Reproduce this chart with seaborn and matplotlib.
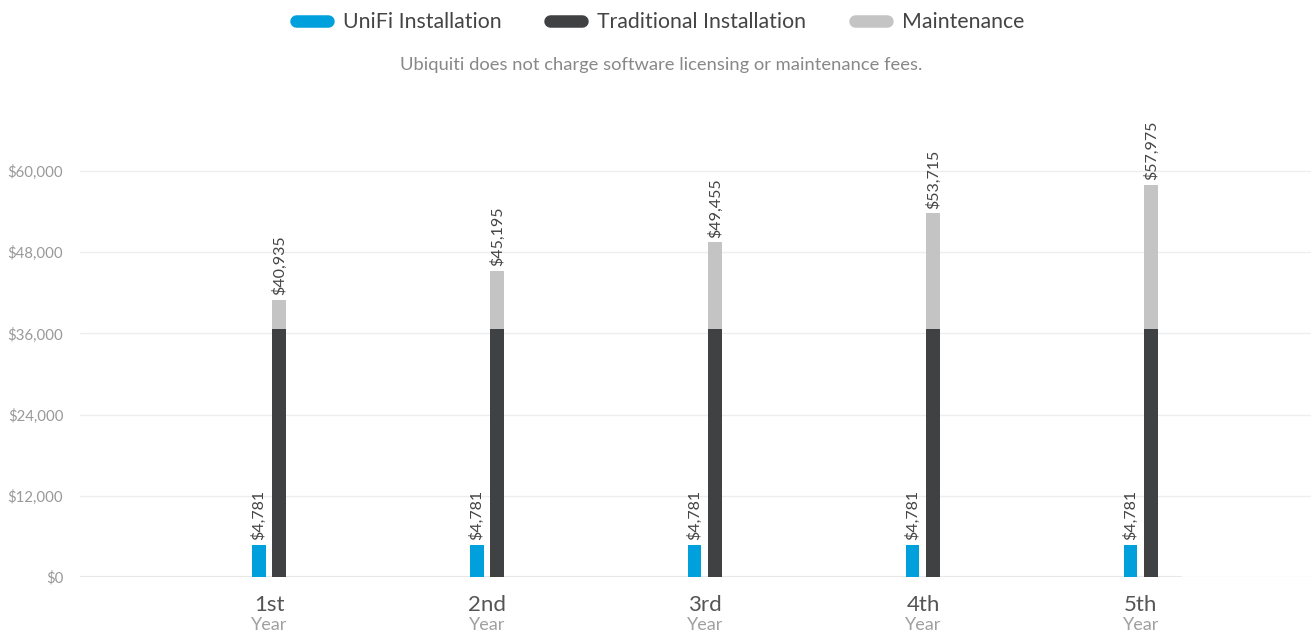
import pandas as pd
import numpy as np
import matplotlib.pyplot as plt
import seaborn as sns
from matplotlib.lines import Line2D

years = ["1st", "2nd", "3rd", "4th", "5th"]
unifi = [4781, 4781, 4781, 4781, 4781]
traditional = [36675, 36675, 36675, 36675, 36675]
maintenance = [4260, 8520, 12780, 17040, 21300]
yticks = [0, 12000, 24000, 36000, 48000, 60000]

colors = {"UniFi Installation": "#00a0dc", "Traditional Installation": "#404143",
          "Maintenance": "#c4c4c4"}

totals = [t + m for t, m in zip(traditional, maintenance)]
df_top = pd.DataFrame({"year": years * 2,
                       "kind": ["UniFi"] * 5 + ["Traditional"] * 5,
                       "value": unifi + totals})
df_base = pd.DataFrame({"year": years * 2,
                        "kind": ["UniFi"] * 5 + ["Traditional"] * 5,
                        "value": unifi + traditional})

sns.set_style("white")
plt.rcParams['font.family'] = ['Lato', 'DejaVu Sans']

fig = plt.figure(figsize=(13.11, 6.36), dpi=100)
W, H = 1311, 636
ax = fig.add_axes([80 / W, (H - 577) / H, (W - 80) / W, (577 - 110) / H])

sns.barplot(data=df_top, x="year", y="value", hue="kind", ax=ax,
            palette=[colors["UniFi Installation"], colors["Maintenance"]],
            width=0.192, gap=1 / 3, legend=False, errorbar=None, saturation=1)
sns.barplot(data=df_base, x="year", y="value", hue="kind", ax=ax,
            palette=[colors["UniFi Installation"], colors["Traditional Installation"]],
            width=0.192, gap=1 / 3, legend=False, errorbar=None, saturation=1)
for p in ax.patches:
    p.set_linewidth(0)

# value labels
for i in range(5):
    ax.text(i - 0.048, unifi[i] + 700, f"${unifi[i]:,}", rotation=90, ha="center",
            va="bottom", fontsize=11.5, color="#444444")
    ax.text(i + 0.048, totals[i] + 700, f"${totals[i]:,}", rotation=90, ha="center",
            va="bottom", fontsize=11.5, color="#444444")

ax.set_xlim(-0.867, 4.78)
ax.set_ylim(0, 69000)
ax.set_yticks(yticks)
ax.set_yticklabels([f"${v:,}" for v in yticks], color="#999999", fontsize=10.8)
ax.tick_params(axis="y", length=0, pad=12)
ax.yaxis.grid(True, color="#eeeeee", linewidth=1)
ax.set_axisbelow(True)
for s in ax.spines.values():
    s.set_visible(False)
ax.axhline(0, xmin=0, xmax=(1181 - 80) / (W - 80), color="#e6e6e6", linewidth=1.5, zorder=0)

ax.set_xticks(range(5))
ax.set_xticklabels(years, fontsize=16, color="#555555")
ax.tick_params(axis="x", length=0, pad=13)
for i in range(5):
    ax.text(i, -40 / 467, "Year", transform=ax.get_xaxis_transform(), ha="center",
            va="top", fontsize=13, color="#a0a0a0")
ax.set_xlabel("")
ax.set_ylabel("")

handles = [Line2D([0], [0], color=c, linewidth=9, solid_capstyle="round") for c in colors.values()]
fig.legend(handles, list(colors.keys()), loc="center", bbox_to_anchor=(660 / W, 1 - 22 / H),
           ncol=3, frameon=False, fontsize=15.3, handlelength=1.5, columnspacing=2.3,
           handletextpad=0.7, labelcolor="#444444")
fig.text(661 / W, 1 - 65 / H, "Ubiquiti does not charge software licensing or maintenance fees.",
         ha="center", va="center", fontsize=13.2, color="#888888")

plt.savefig("out.png", dpi=100)
